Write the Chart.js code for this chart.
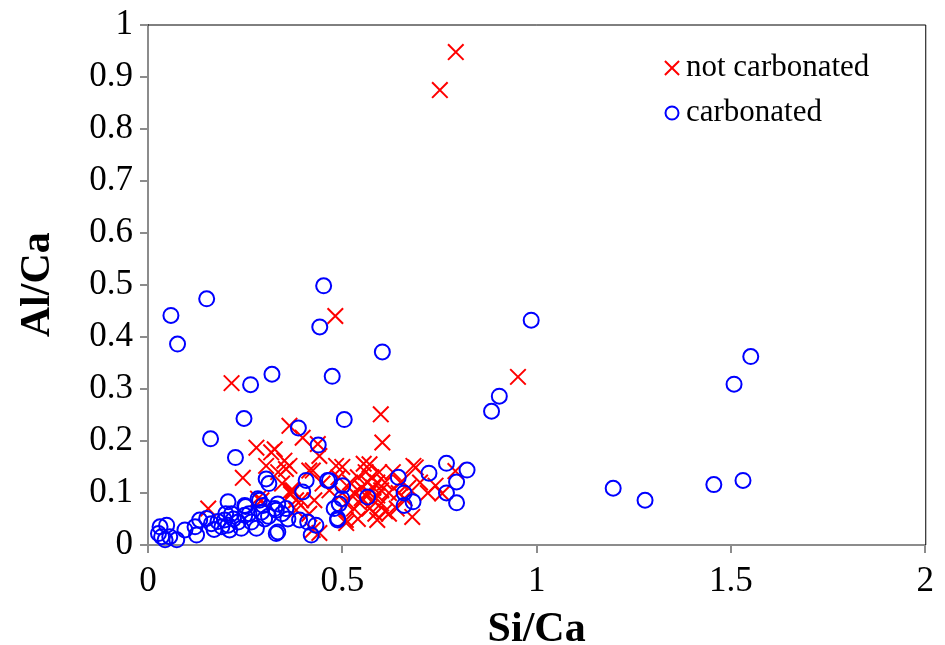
<!DOCTYPE html>
<html>
<head>
<meta charset="utf-8">
<script src="https://cdn.jsdelivr.net/npm/chart.js@4.4.1/dist/chart.umd.min.js"></script>
<style>
  html, body { margin: 0; padding: 0; background: #fff; }
</style>
</head>
<body>
<canvas id="scatterChart" width="945" height="645"></canvas>
<script>
// axis ticks
const xTicks = [0, 0.5, 1, 1.5, 2];
const yTicks = [0, 0.1, 0.2, 0.3, 0.4, 0.5, 0.6, 0.7, 0.8, 0.9, 1];

// not carbonated samples (Si/Ca, Al/Ca)
const notCarbSi = [
  0.792, 0.751, 0.482, 0.952, 0.215, 0.599, 0.603,
  0.364, 0.398, 0.279, 0.326, 0.317, 0.437, 0.441, 0.351, 0.304, 0.355, 0.244, 0.424, 0.415,
  0.484, 0.364, 0.368, 0.381, 0.373, 0.394, 0.381, 0.415, 0.428, 0.449, 0.467, 0.509, 0.441,
  0.424, 0.155, 0.283, 0.292, 0.368, 0.335, 0.345,
  0.52, 0.53, 0.54, 0.545, 0.55, 0.555, 0.56, 0.56, 0.565, 0.57, 0.57, 0.575, 0.58, 0.58,
  0.585, 0.59, 0.59, 0.595, 0.60, 0.60, 0.61, 0.61, 0.62, 0.62, 0.53, 0.54, 0.55, 0.51,
  0.50, 0.49, 0.50, 0.51, 0.59, 0.57,
  0.683, 0.689, 0.680, 0.740, 0.757, 0.791, 0.65, 0.66, 0.67, 0.64, 0.70, 0.72, 0.63, 0.645
];
const notCarbAl = [
  0.947, 0.874, 0.440, 0.323, 0.311, 0.251, 0.197,
  0.229, 0.206, 0.187, 0.184, 0.178, 0.194, 0.171, 0.162, 0.152, 0.146, 0.129, 0.143, 0.143,
  0.152, 0.152, 0.105, 0.086, 0.105, 0.086, 0.067, 0.060, 0.086, 0.118, 0.105, 0.048, 0.023,
  0.029, 0.070, 0.089, 0.086, 0.098, 0.140, 0.118,
  0.12, 0.10, 0.13, 0.08, 0.11, 0.156, 0.095, 0.14, 0.12, 0.07, 0.10, 0.13, 0.085, 0.11,
  0.06, 0.12, 0.095, 0.14, 0.08, 0.105, 0.12, 0.065, 0.06, 0.10, 0.07, 0.05, 0.09, 0.08,
  0.10, 0.13, 0.15, 0.042, 0.048, 0.155,
  0.152, 0.149, 0.054, 0.114, 0.099, 0.142, 0.12, 0.09, 0.11, 0.07, 0.12, 0.10, 0.14, 0.10
];

// carbonated samples (Si/Ca, Al/Ca)
const carbSi = [
  0.059, 0.151, 0.076, 0.452, 0.442, 0.603, 0.319, 0.264, 0.474, 0.986, 0.904, 0.884,
  1.551, 1.508, 1.531, 1.456, 1.197, 1.279,
  0.505, 0.247, 0.161, 0.225, 0.387, 0.438,
  0.304, 0.311, 0.407, 0.398, 0.462, 0.206, 0.251, 0.287, 0.326, 0.330, 0.411, 0.420, 0.488,
  0.390, 0.432,
  0.644, 0.723, 0.768, 0.821, 0.794, 0.768, 0.794, 0.659, 0.682, 0.659, 0.565, 0.501, 0.499,
  0.492, 0.479, 0.488, 0.467,
  0.031, 0.048, 0.027, 0.044, 0.056, 0.074, 0.035, 0.095, 0.125, 0.121, 0.133, 0.151, 0.163,
  0.197, 0.206, 0.215, 0.210, 0.232, 0.249, 0.249, 0.240, 0.266, 0.279, 0.283, 0.292, 0.296,
  0.334, 0.330, 0.334, 0.17, 0.18, 0.19, 0.20, 0.22, 0.26, 0.30, 0.31, 0.345, 0.355, 0.36
];
const carbAl = [
  0.441, 0.473, 0.386, 0.498, 0.419, 0.371, 0.328, 0.308, 0.324, 0.432, 0.286, 0.257,
  0.362, 0.309, 0.124, 0.116, 0.109, 0.086,
  0.241, 0.243, 0.204, 0.168, 0.225, 0.192,
  0.127, 0.118, 0.124, 0.102, 0.124, 0.083, 0.074, 0.086, 0.070, 0.022, 0.044, 0.019, 0.048,
  0.048, 0.038,
  0.130, 0.138, 0.157, 0.144, 0.121, 0.100, 0.081, 0.100, 0.083, 0.076, 0.092, 0.114, 0.089,
  0.079, 0.070, 0.051, 0.124,
  0.035, 0.038, 0.022, 0.010, 0.016, 0.010, 0.016, 0.029, 0.019, 0.035, 0.048, 0.051, 0.041,
  0.048, 0.038, 0.060, 0.029, 0.044, 0.076, 0.057, 0.032, 0.044, 0.032, 0.089, 0.063, 0.076,
  0.079, 0.067, 0.025, 0.030, 0.045, 0.035, 0.060, 0.050, 0.060, 0.050, 0.055, 0.060, 0.070, 0.050
];

const toPoints = (xs, ys) => xs.map((x, i) => ({ x: x, y: ys[i] }));

const serif = "'Liberation Serif', 'Times New Roman', serif";
const axisGray = "#8c8c8c";

// black frame on top/right of plot area
const framePlugin = {
  id: "frame",
  beforeDatasetsDraw(chart) {
    const { ctx, chartArea: a } = chart;
    ctx.save();
    ctx.strokeStyle = "#000";
    ctx.lineWidth = 1;
    ctx.beginPath();
    ctx.moveTo(a.left, a.top + 0.5);
    ctx.lineTo(a.right + 0.5, a.top + 0.5);
    ctx.lineTo(a.right + 0.5, a.bottom);
    ctx.stroke();
    ctx.restore();
  }
};

// legend in the upper right of the plot
const cornerLegend = {
  id: "cornerLegend",
  afterDraw(chart) {
    const ctx = chart.ctx;
    const items = [
      { ds: chart.data.datasets[1], y: 68, r: 10 },
      { ds: chart.data.datasets[0], y: 113, r: 6.5 }
    ];
    ctx.save();
    items.forEach(it => {
      ctx.strokeStyle = it.ds.borderColor;
      ctx.fillStyle = "rgba(0,0,0,0)";
      ctx.lineWidth = 2;
      Chart.helpers.drawPoint(ctx, { pointStyle: it.ds.pointStyle, radius: it.r, borderWidth: 2, rotation: 0 }, 672, it.y);
      ctx.fillStyle = "#000";
      ctx.font = "31px " + serif;
      ctx.textBaseline = "middle";
      ctx.textAlign = "left";
      ctx.fillText(it.ds.label, 686, it.y);
    });
    ctx.restore();
  }
};

new Chart(document.getElementById("scatterChart"), {
  type: "scatter",
  data: {
    datasets: [
      {
        label: "carbonated",
        data: toPoints(carbSi, carbAl),
        pointStyle: "circle",
        pointRadius: 7.5,
        borderColor: "#0000ff",
        backgroundColor: "rgba(0,0,0,0)",
        borderWidth: 2,
        clip: false,
        order: 1
      },
      {
        label: "not carbonated",
        data: toPoints(notCarbSi, notCarbAl),
        pointStyle: "crossRot",
        pointRadius: 11,
        borderColor: "#ff0000",
        backgroundColor: "#ff0000",
        borderWidth: 2,
        clip: false,
        order: 2
      }
    ]
  },
  options: {
    responsive: false,
    animation: false,
    devicePixelRatio: 1,
    layout: { padding: { left: 0, top: 18, right: 17, bottom: 0 } },
    plugins: {
      legend: { display: false },
      tooltip: { enabled: false }
    },
    scales: {
      x: {
        type: "linear",
        min: 0,
        max: 2,
        afterBuildTicks: s => { s.ticks = xTicks.map(v => ({ value: v })); },
        afterFit: s => { s.height = 100; },
        border: { display: true, color: axisGray, width: 2 },
        grid: { drawOnChartArea: false, drawTicks: true, tickLength: 8, color: axisGray, lineWidth: 2 },
        ticks: {
          color: "#000", padding: 11, maxRotation: 0,
          font: { family: serif, size: 35, lineHeight: 1 },
          callback: v => String(v)
        },
        title: {
          display: true,
          text: "Si/Ca",
          color: "#000",
          padding: { top: 0, bottom: 0 },
          font: { family: serif, size: 42, weight: "bold", lineHeight: 0.7 }
        }
      },
      y: {
        type: "linear",
        min: 0,
        max: 1,
        afterBuildTicks: s => { s.ticks = yTicks.map(v => ({ value: v })); },
        afterFit: s => { s.width = 148; },
        border: { display: true, color: axisGray, width: 2 },
        grid: { drawOnChartArea: false, drawTicks: true, tickLength: 8, color: axisGray, lineWidth: 2 },
        ticks: {
          color: "#000", padding: 7,
          font: { family: serif, size: 35, lineHeight: 1 },
          callback: v => String(v)
        },
        title: {
          display: true,
          text: "Al/Ca",
          color: "#000",
          padding: { top: 21, bottom: 0 },
          font: { family: serif, size: 42, weight: "bold", lineHeight: 0.8 }
        }
      }
    }
  },
  plugins: [framePlugin, cornerLegend]
});
</script>
</body>
</html>
